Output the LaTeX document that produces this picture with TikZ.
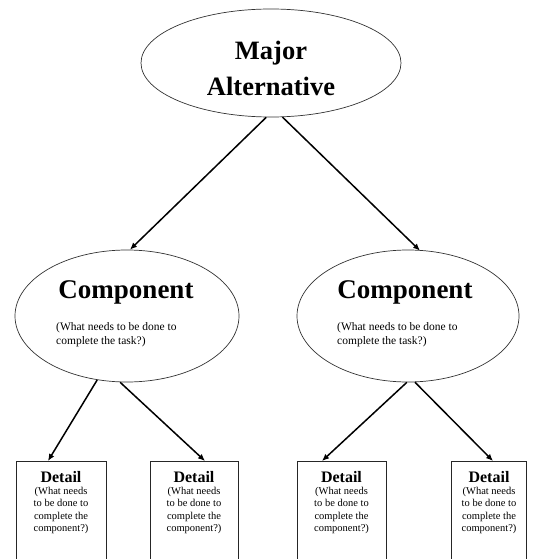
\documentclass[tikz,border=0pt]{standalone}
\usepackage{fontspec}
\setmainfont{Liberation Serif}
\usetikzlibrary{shapes.geometric,arrows.meta}
\begin{document}
\begin{tikzpicture}[x=1pt,y=-1pt,
  oval/.style={ellipse,draw=black!80,line width=0.7pt,inner sep=0pt},
  box/.style={rectangle,draw=black!85,line width=0.9pt,anchor=north,minimum height=130pt,inner sep=0pt},
  arr/.style={line width=1.5pt,-{Latex[length=7pt,width=6pt]}},
  bigtxt/.style={font=\fontsize{26.5}{32}\selectfont\bfseries,anchor=base,inner sep=0pt},
  comptxt/.style={font=\fontsize{27}{32}\selectfont\bfseries,anchor=base,inner sep=0pt},
  subtxt/.style={font=\fontsize{11.5}{14}\selectfont,anchor=base west,align=left,inner sep=0pt},
  dettxt/.style={font=\fontsize{16}{18}\selectfont\bfseries,anchor=base,inner sep=0pt},
  detsub/.style={font=\fontsize{10.5}{12.5}\selectfont,anchor=base,align=center,inner sep=0pt}
]
\useasboundingbox (0,0) rectangle (540,559);
\clip (0,0) rectangle (540,559);

% ellipses
\node[oval,minimum width=260pt,minimum height=108pt] (top) at (271,63) {};
\node[oval,minimum width=224pt,minimum height=132pt] (c1) at (127,316) {};
\node[oval,minimum width=222pt,minimum height=132pt] (c2) at (408,316) {};

% texts in ellipses
\node[bigtxt] (tmaj) at (271,60) {Major};
\node[bigtxt] (talt) at (271,96) {Alternative};
\node[comptxt] (tc1) at (126,298) {Component};
\node[comptxt] (tc2) at (405,298) {Component};
\node[subtxt] (sc1) at (56,344) {(What needs to be done to\\complete the task?)};
\node[subtxt] (sc2) at (337,344) {(What needs to be done to\\complete the task?)};

% boxes
\node[box,minimum width=90pt] (d1) at (61,461) {};
\node[box,minimum width=88pt] (d2) at (194,461) {};
\node[box,minimum width=89pt] (d3) at (341.5,461) {};
\node[box,minimum width=75pt] (d4) at (489,461) {};

\foreach \n/\x in {1/61,2/194,3/341.5,4/489}{
  \node[dettxt] (dt\n) at (\x,482) {Detail};
  \node[detsub,anchor=north] (ds\n) at (\x,487) {(What needs\\to be done to\\complete the\\component?)};
}

% connectors
\draw[arr] (top.265.8) -- ([xshift=3pt]c1.north);
\draw[arr] (top.282.5) -- ([xshift=12pt,yshift=-1pt]c2.north);
\draw[arr] (c1.245.6) -- ([xshift=-13pt]d1.north);
\draw[arr] (c1.264) -- ([xshift=11pt]d2.north);
\draw[arr] (c2.269) -- ([xshift=-19.5pt]d3.north);
\draw[arr] (c2.276) -- ([xshift=4pt]d4.north);
\end{tikzpicture}
\end{document}
